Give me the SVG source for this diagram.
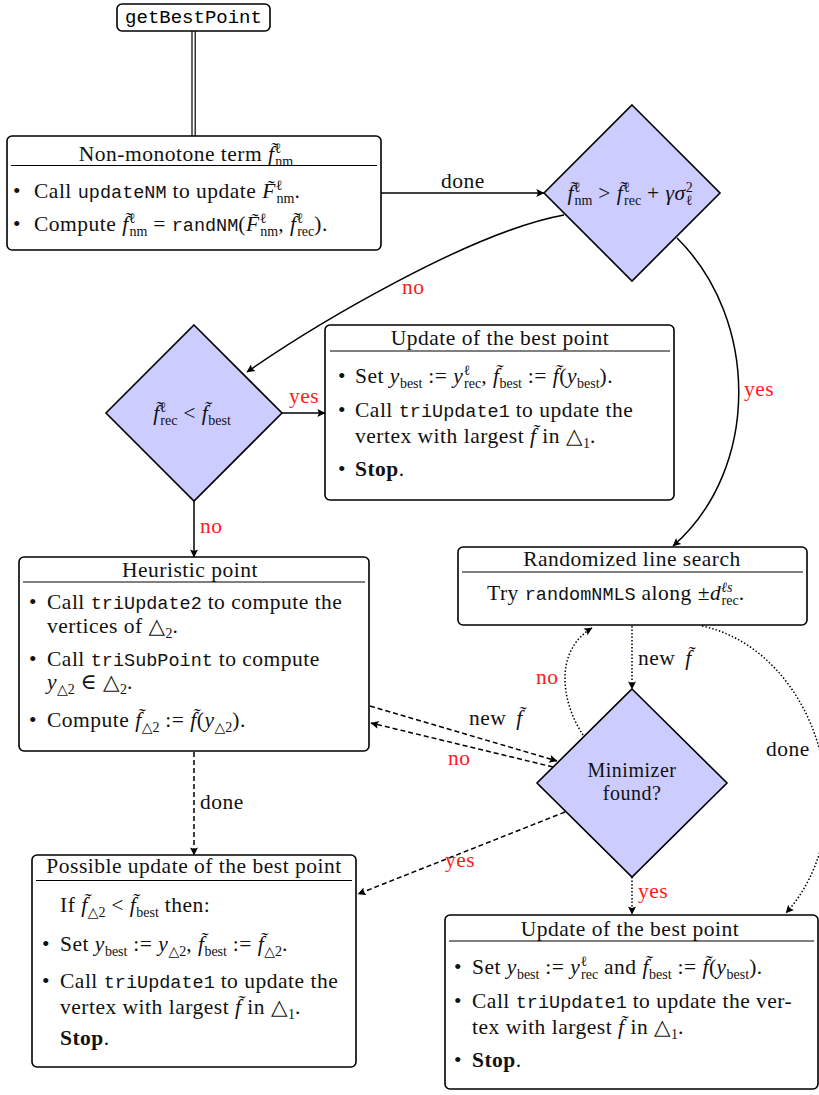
<svg xmlns="http://www.w3.org/2000/svg" width="819" height="1095" viewBox="0 0 819 1095">
<defs>
<style>
.t{font-family:"Liberation Serif","DejaVu Serif",serif;font-size:21.5px;fill:#111;letter-spacing:0.5px}
.c{text-anchor:middle}
.m{font-family:"Liberation Mono",monospace;font-size:18.5px;letter-spacing:0}
.i{font-style:italic}
.s{font-size:14px;letter-spacing:0}
.b{font-weight:bold}
.r{fill:#ff1a1a}
.box{fill:#fff;stroke:#000;stroke-width:1.6}
.sep{stroke:#000;stroke-width:1}
.dia{fill:#ccccff;stroke:#000;stroke-width:1.6}
.ln{fill:none;stroke:#000;stroke-width:1.5}
.da{stroke-dasharray:5 3}
.do{stroke-dasharray:1.5 2}
</style>
<marker id="ah" viewBox="0 0 10 10" refX="9.5" refY="5" markerWidth="10" markerHeight="8" markerUnits="userSpaceOnUse" orient="auto">
<path d="M0,0 L10,5 L0,10 L2,5 z" fill="#000"/>
</marker>
</defs>
<rect width="819" height="1095" fill="#fff"/>

<g id="connectors">
<line x1="192" y1="31" x2="192" y2="137" stroke="#000" stroke-width="1.2"/>
<line x1="195.2" y1="31" x2="195.2" y2="137" stroke="#000" stroke-width="1.2"/>
<line class="ln" x1="381" y1="193" x2="544" y2="193" marker-end="url(#ah)"/>
<text class="t" x="441" y="188">done</text>
<path class="ln" d="M564,215 C470,232 313,326 247,372" marker-end="url(#ah)"/>
<text class="t r" x="402" y="294">no</text>
<path class="ln" d="M677,238 C760,320 760,470 673,546" marker-end="url(#ah)"/>
<text class="t r" x="744" y="396">yes</text>
<line class="ln" x1="282" y1="413" x2="325" y2="413" marker-end="url(#ah)"/>
<text class="t r" x="289" y="403">yes</text>
<line class="ln" x1="194" y1="501" x2="194" y2="557" marker-end="url(#ah)"/>
<text class="t r" x="200" y="533">no</text>
<line class="ln do" x1="632" y1="626" x2="632" y2="689" marker-end="url(#ah)"/>
<text class="t" x="638" y="665">new <tspan class="i" dx="4">f̃</tspan></text>
<path class="ln do" d="M583,735 C560,700 555,650 592,628" marker-end="url(#ah)"/>
<text class="t r" x="536" y="684">no</text>
<path class="ln do" d="M702,626 C815,650 870,820 786,913" marker-end="url(#ah)"/>
<text class="t" x="766" y="756">done</text>
<line class="ln da" x1="370" y1="706" x2="557" y2="761" marker-end="url(#ah)"/>
<text class="t" x="469" y="725">new <tspan class="i" dx="4">f̃</tspan></text>
<line class="ln da" x1="553" y1="767" x2="371" y2="723" marker-end="url(#ah)"/>
<text class="t r" x="448" y="765">no</text>
<line class="ln da" x1="565" y1="812" x2="358" y2="894" marker-end="url(#ah)"/>
<text class="t r" x="445" y="867">yes</text>
<line class="ln da" x1="194" y1="752" x2="194" y2="855" marker-end="url(#ah)"/>
<text class="t" x="200" y="809">done</text>
<line class="ln do" x1="632" y1="877" x2="632" y2="914" marker-end="url(#ah)"/>
<text class="t r" x="638" y="898">yes</text>
</g>

<g id="start">
<rect class="box" x="117" y="4" width="153" height="27" rx="5"/>
<text class="m c" x="193.5" y="23" style="font-size:19px">getBestPoint</text>
</g>

<g id="nonmonotone">
<rect class="box" x="7" y="136" width="374" height="114" rx="5"/>
<text class="t c" x="186" y="161">Non-monotone term <tspan class="i">f̃</tspan><tspan class="s" baseline-shift="8">ℓ</tspan><tspan class="s" dx="-6" baseline-shift="-5">nm</tspan></text>
<line class="sep" x1="11" y1="165.5" x2="377" y2="165.5"/>
<text class="t" x="13" y="198">•</text>
<text class="t" x="34" y="198">Call <tspan class="m">updateNM</tspan> to update <tspan class="i">F̃</tspan><tspan class="s" baseline-shift="8">ℓ</tspan><tspan class="s" dx="-6" baseline-shift="-5">nm</tspan>.</text>
<text class="t" x="13" y="231">•</text>
<text class="t" x="34" y="231">Compute <tspan class="i">f̃</tspan><tspan class="s" baseline-shift="8">ℓ</tspan><tspan class="s" dx="-6" baseline-shift="-5">nm</tspan> = <tspan class="m">randNM</tspan>(<tspan class="i">F̃</tspan><tspan class="s" baseline-shift="8">ℓ</tspan><tspan class="s" dx="-6" baseline-shift="-5">nm</tspan>, <tspan class="i">f̃</tspan><tspan class="s" baseline-shift="8">ℓ</tspan><tspan class="s" dx="-6" baseline-shift="-5">rec</tspan>).</text>
</g>

<g id="decision1">
<polygon class="dia" points="632,105 720,193 632,281 544,193"/>
<text class="t c" x="630" y="200"><tspan class="i">f̃</tspan><tspan class="s" baseline-shift="8">ℓ</tspan><tspan class="s" dx="-6" baseline-shift="-5">nm</tspan> &gt; <tspan class="i">f̃</tspan><tspan class="s" baseline-shift="8">ℓ</tspan><tspan class="s" dx="-6" baseline-shift="-5">rec</tspan> + <tspan class="i">γσ</tspan><tspan class="s" baseline-shift="8">2</tspan><tspan class="s" dx="-7" baseline-shift="-5">ℓ</tspan></text>
</g>

<g id="decision2">
<polygon class="dia" points="194,325 282,413 194,501 106,413"/>
<text class="t c" x="192" y="420"><tspan class="i">f̃</tspan><tspan class="s" baseline-shift="8">ℓ</tspan><tspan class="s" dx="-6" baseline-shift="-5">rec</tspan> &lt; <tspan class="i">f̃</tspan><tspan class="s" baseline-shift="-5">best</tspan></text>
</g>

<g id="update1">
<rect class="box" x="325" y="325" width="349" height="175" rx="5"/>
<text class="t c" x="500" y="345">Update of the best point</text>
<line class="sep" x1="330" y1="351" x2="670" y2="351"/>
<text class="t" x="338" y="383">•</text>
<text class="t" x="355" y="383">Set <tspan class="i">y</tspan><tspan class="s" baseline-shift="-5">best</tspan> := <tspan class="i">y</tspan><tspan class="s" baseline-shift="8">ℓ</tspan><tspan class="s" dx="-6" baseline-shift="-5">rec</tspan>, <tspan class="i">f̃</tspan><tspan class="s" baseline-shift="-5">best</tspan> := <tspan class="i">f̃</tspan>(<tspan class="i">y</tspan><tspan class="s" baseline-shift="-5">best</tspan>).</text>
<text class="t" x="338" y="417">•</text>
<text class="t" x="355" y="417">Call <tspan class="m">triUpdate1</tspan> to update the</text>
<text class="t" x="355" y="443">vertex with largest <tspan class="i">f̃</tspan> in △<tspan class="s" baseline-shift="-5">1</tspan>.</text>
<text class="t" x="338" y="476">•</text>
<text class="t b" x="355" y="476">Stop<tspan style="font-weight:normal">.</tspan></text>
</g>

<g id="heuristic">
<rect class="box" x="19" y="557" width="350" height="194" rx="5"/>
<text class="t c" x="190" y="577">Heuristic point</text>
<line class="sep" x1="23" y1="582" x2="365" y2="582"/>
<text class="t" x="29" y="609">•</text>
<text class="t" x="47" y="609">Call <tspan class="m">triUpdate2</tspan> to compute the</text>
<text class="t" x="47" y="633">vertices of △<tspan class="s" baseline-shift="-5">2</tspan>.</text>
<text class="t" x="29" y="666">•</text>
<text class="t" x="47" y="666">Call <tspan class="m">triSubPoint</tspan> to compute</text>
<text class="t" x="47" y="689"><tspan class="i">y</tspan><tspan class="s" baseline-shift="-5">△2</tspan> ∈ △<tspan class="s" baseline-shift="-5">2</tspan>.</text>
<text class="t" x="29" y="727">•</text>
<text class="t" x="47" y="727">Compute <tspan class="i">f̃</tspan><tspan class="s" baseline-shift="-5">△2</tspan> := <tspan class="i">f̃</tspan>(<tspan class="i">y</tspan><tspan class="s" baseline-shift="-5">△2</tspan>).</text>
</g>

<g id="linesearch">
<rect class="box" x="458" y="547" width="349" height="78" rx="5"/>
<text class="t c" x="632" y="566">Randomized line search</text>
<line class="sep" x1="462" y1="572" x2="803" y2="572"/>
<text class="t" x="487" y="600">Try <tspan class="m">randomNMLS</tspan> along ±<tspan class="i">d</tspan><tspan class="s i" baseline-shift="8">ℓs</tspan><tspan class="s" dx="-11" baseline-shift="-5">rec</tspan>.</text>
</g>

<g id="minimizer">
<polygon class="dia" points="632,689 727,783 632,877 537,783"/>
<text class="t c" x="632" y="777" style="font-size:20px">Minimizer<tspan x="632" dy="23">found?</tspan></text>
</g>

<g id="possible">
<rect class="box" x="32" y="855" width="324" height="212" rx="5"/>
<text class="t c" x="194" y="873">Possible update of the best point</text>
<line class="sep" x1="36" y1="880.5" x2="352" y2="880.5"/>
<text class="t" x="60" y="912">If <tspan class="i">f̃</tspan><tspan class="s" baseline-shift="-5">△2</tspan> &lt; <tspan class="i">f̃</tspan><tspan class="s" baseline-shift="-5">best</tspan> then:</text>
<text class="t" x="42" y="951">•</text>
<text class="t" x="60" y="951">Set <tspan class="i">y</tspan><tspan class="s" baseline-shift="-5">best</tspan> := <tspan class="i">y</tspan><tspan class="s" baseline-shift="-5">△2</tspan>, <tspan class="i">f̃</tspan><tspan class="s" baseline-shift="-5">best</tspan> := <tspan class="i">f̃</tspan><tspan class="s" baseline-shift="-5">△2</tspan>.</text>
<text class="t" x="42" y="988">•</text>
<text class="t" x="60" y="988">Call <tspan class="m">triUpdate1</tspan> to update the</text>
<text class="t" x="60" y="1014">vertex with largest <tspan class="i">f̃</tspan> in △<tspan class="s" baseline-shift="-5">1</tspan>.</text>
<text class="t b" x="60" y="1045">Stop<tspan style="font-weight:normal">.</tspan></text>
</g>

<g id="update2">
<rect class="box" x="445" y="915" width="373" height="174" rx="5"/>
<text class="t c" x="630" y="936">Update of the best point</text>
<line class="sep" x1="449" y1="941" x2="814" y2="941"/>
<text class="t" x="454" y="974">•</text>
<text class="t" x="472" y="974">Set <tspan class="i">y</tspan><tspan class="s" baseline-shift="-5">best</tspan> := <tspan class="i">y</tspan><tspan class="s" baseline-shift="8">ℓ</tspan><tspan class="s" dx="-6" baseline-shift="-5">rec</tspan> and <tspan class="i">f̃</tspan><tspan class="s" baseline-shift="-5">best</tspan> := <tspan class="i">f̃</tspan>(<tspan class="i">y</tspan><tspan class="s" baseline-shift="-5">best</tspan>).</text>
<text class="t" x="454" y="1008">•</text>
<text class="t" x="472" y="1008">Call <tspan class="m">triUpdate1</tspan> to update the ver-</text>
<text class="t" x="472" y="1034">tex with largest <tspan class="i">f̃</tspan> in △<tspan class="s" baseline-shift="-5">1</tspan>.</text>
<text class="t" x="454" y="1067">•</text>
<text class="t b" x="472" y="1067">Stop<tspan style="font-weight:normal">.</tspan></text>
</g>
</svg>
